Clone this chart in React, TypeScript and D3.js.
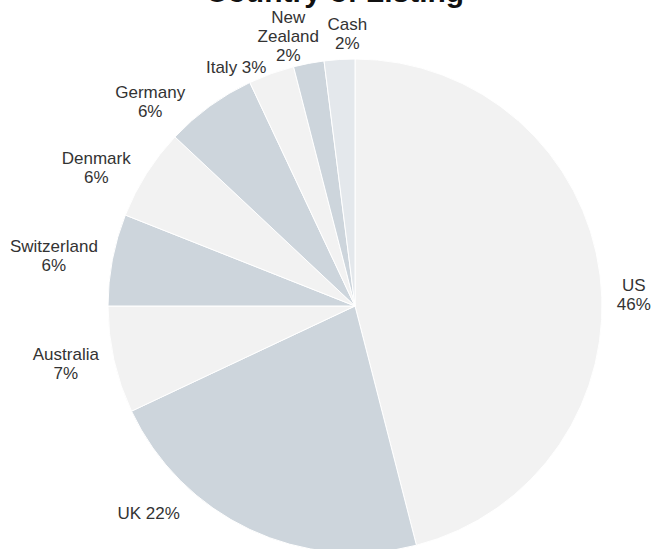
import React, { useEffect, useRef } from "react";
import * as d3 from "d3";

// ---- data ----
const title = "Country of Listing";
const categories = ["US", "UK", "Australia", "Switzerland", "Denmark", "Germany", "Italy", "New Zealand", "Cash"];
const shares = [46, 22, 7, 6, 6, 6, 3, 2, 2];
// how each label's name is wrapped, and whether the percentage sits on the same line
const nameLines = [["US"], ["UK"], ["Australia"], ["Switzerland"], ["Denmark"], ["Germany"], ["Italy"], ["New", "Zealand"], ["Cash"]];
const pctInline = [false, true, false, false, false, false, true, false, false];

// ---- styles / layout ----
const sliceColors = ["#f2f2f2", "#cdd5dc", "#f2f2f2", "#cdd5dc", "#f2f2f2", "#cdd5dc", "#f2f2f2", "#cdd5dc", "#e4e8ec"];
const labelShiftDeg = [5, 17.5, 0.6, -0.6, -3, -7.5, -5, -3, 2];
const labelRadialNudge = [0, 11, 0, 0, 0, 0, -9, -13, -9];

const W = 655;
const H = 549;
const CX = 355;
const CY = 306;
const R = 247;
const LABEL_GAP = 15;
const LINE_H = 19;
const FONT = "'Liberation Sans', Arial, sans-serif";

export default function App() {
  const ref = useRef<SVGSVGElement | null>(null);

  useEffect(() => {
    const svg = d3.select(ref.current);
    svg.selectAll("*").remove();

    svg.append("rect").attr("width", W).attr("height", H).attr("fill", "#fff");

    const pie = d3.pie<number>().sort(null).value((d) => d);
    const arcs = pie(shares);
    const arc = d3.arc<d3.PieArcDatum<number>>().innerRadius(0).outerRadius(R);

    const g = svg.append("g").attr("transform", `translate(${CX},${CY})`);
    g.selectAll("path")
      .data(arcs)
      .join("path")
      .attr("d", arc as any)
      .attr("fill", (_d, i) => sliceColors[i])
      .attr("stroke", "#ffffff")
      .attr("stroke-width", 1)
      .append("title")
      .text((_d, i) => categories[i]);

    const lg = svg.append("g");
    arcs.forEach((a, i) => {
      const lines = pctInline[i]
        ? [...nameLines[i].slice(0, -1), `${nameLines[i][nameLines[i].length - 1]} ${shares[i]}%`]
        : [...nameLines[i], `${shares[i]}%`];
      const t = lg
        .append("text")
        .attr("font-family", FONT)
        .attr("font-size", 17)
        .attr("fill", "#333")
        .attr("text-anchor", "middle");
      lines.forEach((ln, k) => {
        t.append("tspan").attr("x", 0).attr("y", k * LINE_H).text(ln);
      });
      const bb = (t.node() as SVGTextElement).getBBox();
      const ang = (a.startAngle + a.endAngle) / 2 + (labelShiftDeg[i] * Math.PI) / 180;
      const s = Math.sin(ang);
      const c = Math.cos(ang);
      const rr = R + LABEL_GAP + labelRadialNudge[i];
      const px = CX + rr * s + (bb.width / 2) * s;
      const py = CY - rr * c - (bb.height / 2) * c;
      const bx = bb.x + bb.width / 2;
      const by = bb.y + bb.height / 2;
      t.attr("transform", `translate(${px - bx},${py - by})`);
    });

    svg
      .append("text")
      .attr("x", 335)
      .attr("y", 2)
      .attr("text-anchor", "middle")
      .attr("font-family", FONT)
      .attr("font-weight", "bold")
      .attr("font-size", 30)
      .attr("fill", "#111")
      .text(title);
  }, []);

  return (
    <svg
      ref={ref}
      width={W}
      height={H}
      style={{ position: "absolute", left: 0, top: 0, display: "block" }}
    />
  );
}
